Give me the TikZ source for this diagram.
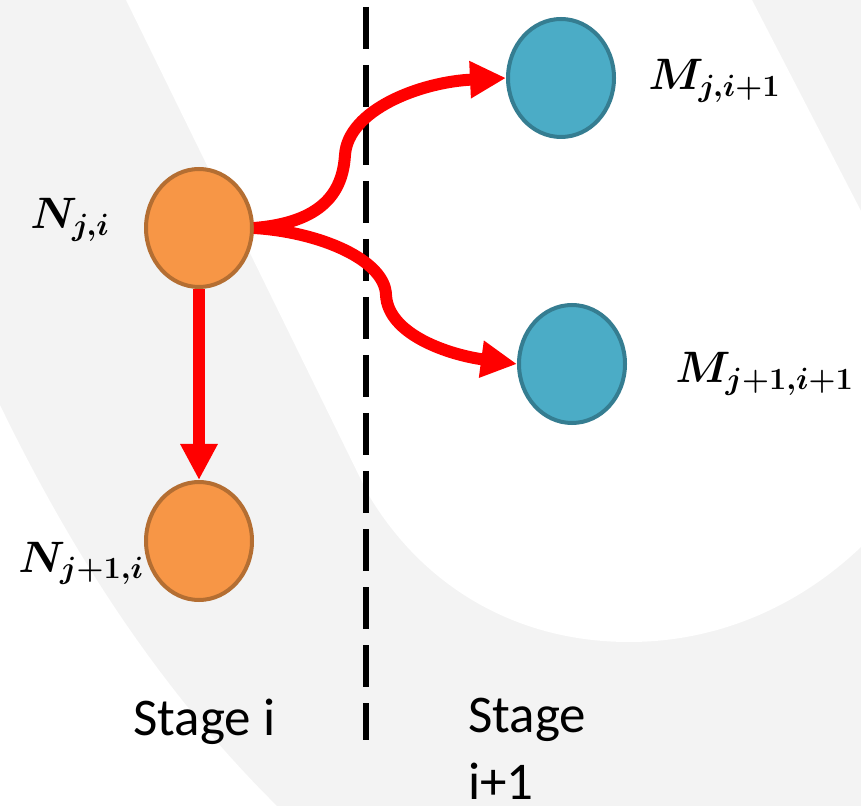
\RequirePackage{fix-cm}
\documentclass[tikz,border=0pt]{standalone}
\usepackage{amsmath}
\usepackage{fontspec}
\setmainfont{Carlito}
\usetikzlibrary{arrows.meta,shapes.geometric}
\definecolor{stgback}{RGB}{243,243,243}
\definecolor{nfill}{RGB}{247,150,70}
\definecolor{nedge}{RGB}{180,110,50}
\definecolor{mfill}{RGB}{75,172,198}
\definecolor{medge}{RGB}{53,125,145}
\definecolor{flowred}{RGB}{255,0,0}
\tikzset{
  stnode/.style={
    ellipse, line width=2pt, inner sep=0pt,
    minimum width=53pt, minimum height=59pt
  },
  nnode/.style={stnode, draw=nedge, fill=nfill},
  mnode/.style={stnode, draw=medge, fill=mfill},
  flow/.style={-{Triangle[length=18pt,width=17.5pt]}, draw=flowred, line width=6pt},
  stagesep/.style={draw=black, line width=3pt, dash pattern=on 21pt off 8pt},
  lbl/.style={font=\fontsize{22}{26}\selectfont, inner sep=0pt, anchor=base west},
  stg/.style={font=\fontsize{26.5}{33.5}\selectfont, inner sep=0pt, anchor=base west, align=left}
}

\begin{document}
\begin{tikzpicture}[x=0.5pt,y=-0.5pt]
  \useasboundingbox (0,0) rectangle (861,806);
  % backdrop
  \fill[stgback] (0,0) rectangle (861,806);
  \fill[white] (126,0) -- (368,494) .. controls (425,590) and (520,642) .. (629,642)
    .. controls (720,642) and (800,605) .. (861,547) -- (861,211) -- (752,0) -- cycle;
  \fill[white] (0,405) .. controls (80,570) and (170,700) .. (277,806) -- (0,806) -- cycle;
  % stage border
  \coordinate (septop) at (366,7);
  \coordinate (sepbot) at (366,740);
  \draw[stagesep] (septop) -- (sepbot);
  % states
  \node[nnode] (Nji) at (199,228) {};
  \node[nnode] (Nnext) at (199,541) {};
  \node[mnode] (Mup) at (561,78) {};
  \node[mnode] (Mdown) at (572,364) {};
  \node[lbl] (Nlab) at (30,229) {$\boldsymbol{N_{j,i}}$};
  \node[lbl] (Nnextlab) at (18,572) {$\boldsymbol{N_{j+1,i}}$};
  \node[lbl] (Muplab) at (648,90) {$\boldsymbol{M_{j,i+1}}$};
  \node[lbl] (Mdownlab) at (675,383) {$\boldsymbol{M_{j+1,i+1}}$};
  % transitions
  \draw[flow] (Nji.south) -- (Nnext.north);
  \draw[flow] (Nji.east) .. controls (330,222) and (343,185) .. (345,155)
    .. controls (348,110) and (420,82) .. (Mup.west);
  \draw[flow] (Nji.east) .. controls (320,232) and (385,260) .. (386,295)
    .. controls (388,335) and (450,355) .. (Mdown.west);
  % stage names
  \node[stg] (stgi) at (133,735) {Stage i};
  \node[stg, text depth=0pt] (stgnext) at (468,799) {Stage\\i+1};
\end{tikzpicture}
\end{document}
